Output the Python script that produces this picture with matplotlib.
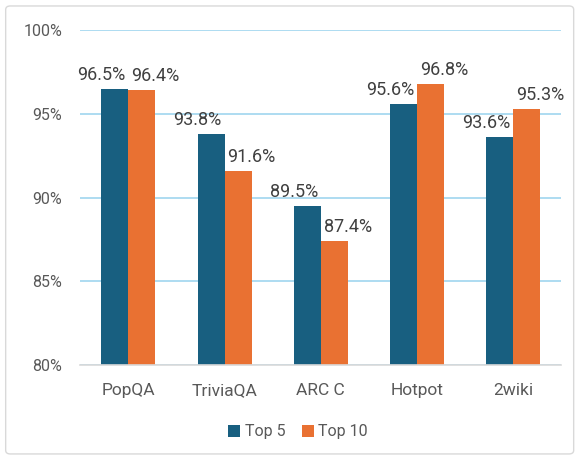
import matplotlib
matplotlib.use("Agg")
import matplotlib.pyplot as plt
from matplotlib.patches import FancyBboxPatch
import numpy as np

categories = ["PopQA", "TriviaQA", "ARC C", "Hotpot", "2wiki"]
top5 = [96.5, 93.8, 89.5, 95.6, 93.6]
top10 = [96.4, 91.6, 87.4, 96.8, 95.3]
yticks = [80, 85, 90, 95, 100]

plt.rcParams['font.family'] = ['Roboto', 'DejaVu Sans']
blue = "#185F80"
orange = "#E97132"
txt = "#595959"
lbl = "#404040"

fig = plt.figure(figsize=(5.79, 4.59), dpi=100)
fig.patches.append(FancyBboxPatch((0.0098, 0.011), 0.981, 0.976, boxstyle="round,pad=0,rounding_size=0.008",
                                  transform=fig.transFigure, fill=False, edgecolor="#d9d9d9", linewidth=1))
ax = fig.add_axes([0.1387, 0.2048, 0.8307, 0.7298])
x = np.arange(len(categories))
w = 0.28
b1 = ax.bar(x - w/2, top5, w, color=blue, label="Top 5", zorder=3)
b2 = ax.bar(x + w/2, top10, w, color=orange, label="Top 10", zorder=3)
for bars, vals, dx in ((b1, top5, -9.8), (b2, top10, 9.8)):
    for r, v in zip(bars, vals):
        ax.annotate(f"{v:.1f}%", (r.get_x() + r.get_width()/2, v), xytext=(dx, 6.5),
                    textcoords="offset points", ha="center", va="baseline", fontsize=13, color=lbl)
ax.set_ylim(80, 100)
ax.set_xlim(-0.5, len(categories) - 0.5)
ax.set_yticks(yticks)
ax.set_yticklabels([f"{t}%" for t in yticks])
ax.set_xticks(x)
ax.set_xticklabels(categories)
ax.tick_params(axis="both", length=0, labelcolor=txt)
ax.tick_params(axis="y", pad=13, labelsize=11.5)
ax.tick_params(axis="x", pad=13, labelsize=12.5)
ax.grid(axis="y", color="#9fd5ef", linewidth=1.2, zorder=0)
for s in ("top", "right", "left"):
    ax.spines[s].set_visible(False)
ax.spines["bottom"].set_color("#d9d9d9")
ax.spines["bottom"].set_linewidth(1.2)
ax.spines["bottom"].set_zorder(4)
leg = fig.legend(handles=[b1, b2], loc="center", bbox_to_anchor=(0.515, 0.059), ncol=2, frameon=False,
                 fontsize=11.5, handlelength=0.75, handleheight=0.75, handletextpad=0.3, columnspacing=1.0)
for t in leg.get_texts():
    t.set_color(txt)
fig.savefig("out.png", dpi=100)
